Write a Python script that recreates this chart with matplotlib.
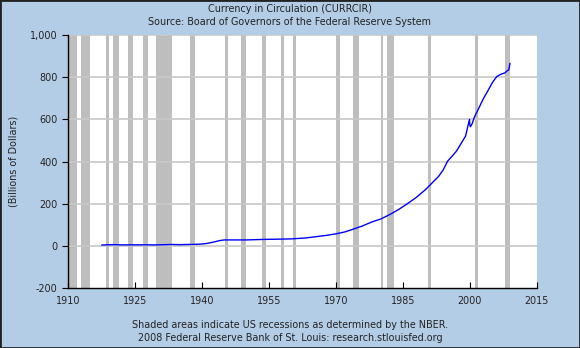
import matplotlib.pyplot as plt
from matplotlib.ticker import FuncFormatter

# Currency in Circulation (CURRCIR), billions of dollars
years = [1917.6, 1919, 1920.5, 1922, 1925, 1928, 1930, 1932, 1933.2, 1935, 1937, 1939,
         1940, 1941, 1942, 1943, 1944, 1945, 1947, 1950, 1953, 1955, 1958, 1960,
         1963, 1965, 1968, 1970, 1972, 1974, 1976, 1978, 1980, 1982, 1984, 1986,
         1988, 1990, 1991, 1993, 1994, 1995, 1996, 1997, 1998, 1999, 1999.9, 1999.95,
         2000.1, 2000.5, 2001, 2002, 2003, 2004, 2005, 2006, 2007, 2007.8, 2008.3,
         2008.7, 2008.95]
values = [4, 5, 5.6, 4.6, 4.8, 4.8, 4.5, 5.6, 6.5, 5.6, 6.5, 7.5,
          8.7, 11, 15, 20, 25, 28, 28, 28, 30, 31, 32, 33,
          37, 42, 50, 57, 66, 80, 95, 113, 127, 148, 172, 200,
          230, 266, 287, 330, 360, 402, 425, 450, 485, 520, 600, 575,
          565, 580, 611, 654, 698, 735, 774, 803, 815, 820, 830, 835, 865]

# NBER recessions
rec_start = [1910.0, 1913.0, 1918.6, 1920.0, 1923.4, 1926.8, 1929.6, 1937.4, 1945.1,
             1948.8, 1953.5, 1957.6, 1960.3, 1969.9, 1973.8, 1980.0, 1981.5, 1990.5,
             2001.2, 2007.9]
rec_end = [1912.0, 1914.9, 1919.2, 1921.5, 1924.5, 1927.9, 1933.2, 1938.5, 1945.8,
           1949.8, 1954.4, 1958.3, 1961.1, 1970.9, 1975.2, 1980.5, 1982.9, 1991.2,
           2001.9, 2008.9]

xticks = [1910, 1925, 1940, 1955, 1970, 1985, 2000, 2015]
yticks = [-200, 0, 200, 400, 600, 800, 1000]

bg = '#b4cde6'
fs = 6.9
txt = '#222222'
fig = plt.figure(figsize=(5.8, 3.48), dpi=100, facecolor=bg)
ax = fig.add_axes([0.1172, 0.1724, 0.8086, 0.727])
ax.set_facecolor('white')

for s, e in zip(rec_start, rec_end):
    ax.axvspan(s, e, color='#bebebe', lw=0, zorder=1)
for y in yticks[1:]:
    ax.axhline(y, color='#c8c8c8', lw=1.2, zorder=2)

ax.plot(years, values, color='#0000ff', lw=1, zorder=3)

ax.set_xlim(1910, 2015)
ax.set_ylim(-200, 1000)
ax.set_xticks(xticks)
ax.set_yticks(yticks)
ax.yaxis.set_major_formatter(FuncFormatter(lambda v, p: f'{int(v):,}'))
ax.tick_params(axis='x', direction='in', length=4, labelsize=fs, pad=6, labelcolor=txt)
ax.tick_params(axis='y', direction='out', length=4, labelsize=fs, labelcolor=txt)
for side in ['top', 'right']:
    ax.spines[side].set_visible(False)
ax.spines['left'].set_linewidth(1)
ax.spines['bottom'].set_linewidth(1)
ax.set_ylabel('(Billions of Dollars)', fontsize=fs, labelpad=8, color=txt)

fig.text(0.5, 1 - 9 / 348, 'Currency in Circulation (CURRCIR)', ha='center', va='center',
         fontsize=fs, color=txt)
fig.text(0.5, 1 - 22 / 348, 'Source: Board of Governors of the Federal Reserve System',
         ha='center', va='center', fontsize=fs, color=txt)
fig.text(0.5, 1 - 325 / 348, 'Shaded areas indicate US recessions as determined by the NBER.',
         ha='center', va='center', fontsize=fs, color=txt)
fig.text(0.5, 1 - 338 / 348, '2008 Federal Reserve Bank of St. Louis: research.stlouisfed.org',
         ha='center', va='center', fontsize=fs, color=txt)

# dark frame around the figure
fig.patches.append(plt.Rectangle((0, 0), 1, 1, transform=fig.transFigure, fill=False,
                                 edgecolor='#222222', lw=2))

fig.savefig('out.png', dpi=100, facecolor=bg)
